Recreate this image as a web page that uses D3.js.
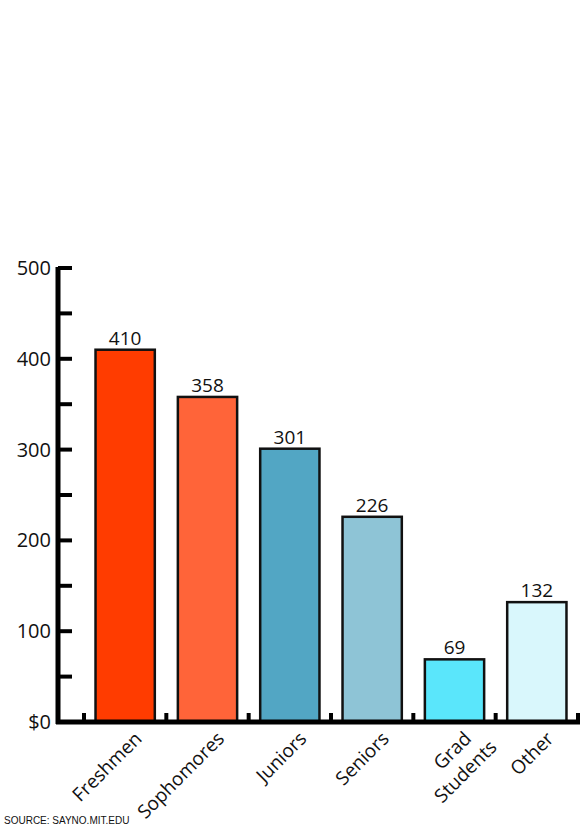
<!DOCTYPE html>
<html><head><meta charset="utf-8">
<script src="https://cdn.jsdelivr.net/npm/d3@7"></script>
<style>body{margin:0;background:#fff}svg{font-family:"Open Sans",sans-serif}</style>
</head><body><svg width="580" height="828"></svg>
<script>
var categories = ["Freshmen", "Sophomores", "Juniors", "Seniors", "Grad Students", "Other"];
var values = [410, 358, 301, 226, 69, 132];
var colors = ["#ff3c00", "#ff6439", "#52a6c4", "#8ec4d6", "#5ae6fb", "#d9f7fc"];
var yTicks = [0, 100, 200, 300, 400, 500];

var svg = d3.select("svg");
var x0 = 58, base = 722;
var y = d3.scaleLinear().domain([0, 500]).range([base, 268]);
var x = d3.scaleBand().domain(categories).range([84, 578]).paddingInner(0.28).paddingOuter(0.14);

// bars
svg.selectAll("rect.bar").data(values).enter().append("rect")
  .attr("x", (d, i) => x(categories[i]))
  .attr("y", d => y(d))
  .attr("width", x.bandwidth())
  .attr("height", d => base - y(d))
  .attr("fill", (d, i) => colors[i])
  .attr("stroke", "#111").attr("stroke-width", 2.5);

svg.selectAll("text.val").data(values).enter().append("text")
  .attr("x", (d, i) => x(categories[i]) + x.bandwidth() / 2)
  .attr("y", d => y(d) - 5)
  .attr("text-anchor", "middle").attr("font-size", 19).attr("fill", "#111")
  .text(d => d);

// y axis
svg.append("line").attr("x1", x0).attr("x2", x0).attr("y1", 267).attr("y2", base + 2)
  .attr("stroke", "#000").attr("stroke-width", 5);
d3.range(0, 501, 50).forEach(function(v) {
  if (v === 0) return;
  svg.append("line").attr("x1", x0).attr("x2", 72).attr("y1", y(v)).attr("y2", y(v))
    .attr("stroke", "#000").attr("stroke-width", 4);
});
svg.selectAll("text.yt").data(yTicks).enter().append("text")
  .attr("x", 51).attr("y", d => y(d) + 7)
  .attr("text-anchor", "end").attr("font-size", 20).attr("fill", "#111")
  .text(d => d === 0 ? "$0" : d);

// x axis
svg.append("line").attr("x1", x0 - 2).attr("x2", 580).attr("y1", base).attr("y2", base)
  .attr("stroke", "#000").attr("stroke-width", 5);
var step = x.step();
d3.range(7).forEach(function(i) {
  var tx = x(categories[0]) - (step - x.bandwidth()) / 2 + i * step;
  svg.append("line").attr("x1", tx).attr("x2", tx).attr("y1", base).attr("y2", base - 9)
    .attr("stroke", "#000").attr("stroke-width", 4);
});

// category labels
categories.forEach(function(c, i) {
  var cx = x(c) + x.bandwidth() / 2 + 8, cy = base + 8;
  var t = svg.append("text").attr("transform", "translate(" + cx + "," + cy + ") rotate(-45)")
    .attr("text-anchor", "end").attr("font-size", 19).attr("fill", "#111");
  var lines = c === "Grad Students" ? ["Grad", "Students"] : [c];
  lines.forEach(function(l, j) {
    t.append("tspan").attr("x", j * 12).attr("dy", j === 0 ? 14 : 24).text(l);
  });
});

svg.append("text").attr("x", 4).attr("y", 824).attr("font-size", 10)
  .attr("font-family", "Liberation Sans, sans-serif").attr("fill", "#111").text("SOURCE: SAYNO.MIT.EDU");
</script></body></html>
